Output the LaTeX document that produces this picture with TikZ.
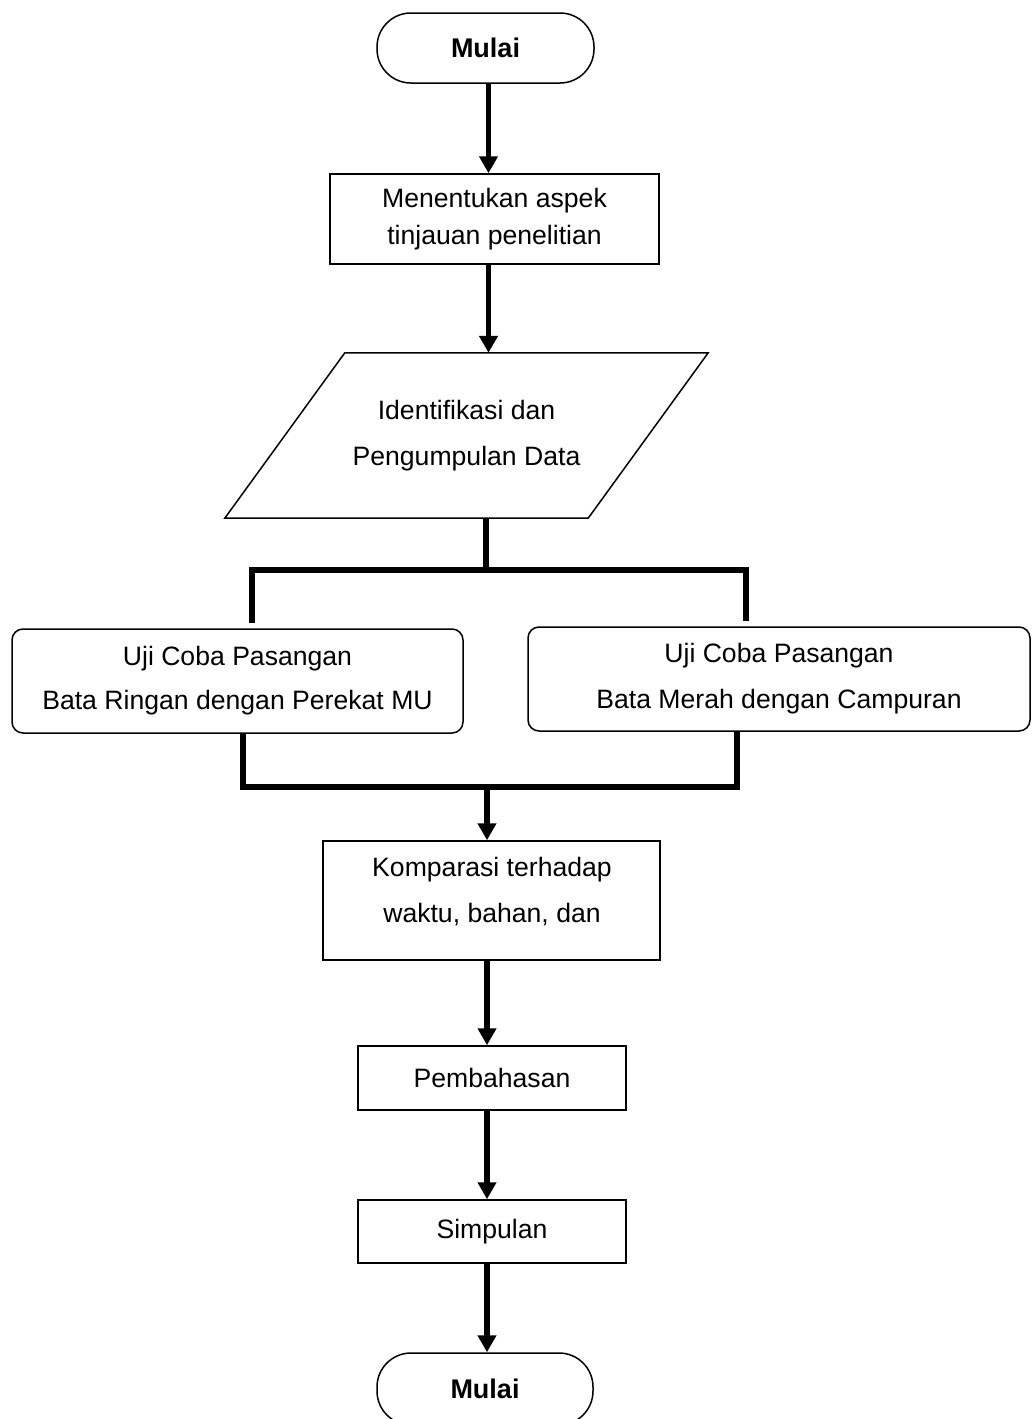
\documentclass[tikz,border=0pt]{standalone}
\usepackage{fontspec}
\setmainfont{Liberation Sans}
\usetikzlibrary{arrows.meta,calc}
\begin{document}
\begin{tikzpicture}[x=1pt,y=-1pt,
  box/.style={draw,line width=1.5pt,rectangle,inner sep=0pt,align=center},
  term/.style={box,rounded corners=34pt,font=\fontsize{27}{32}\selectfont\bfseries},
  conn/.style={line width=5.5pt},
  arr/.style={conn,-{Triangle[width=18pt,length=17pt]}}]
\useasboundingbox (0,0) rectangle (1032,1419);

\node[term,minimum width=217pt,minimum height=70pt] (start) at (485.5,48) {Mulai};
\node[box,minimum width=329pt,minimum height=90pt,font=\fontsize{26.6}{37}\selectfont] (aspek) at (494.5,219) {Menentukan aspek\\tinjauan penelitian};
\node[inner sep=0pt,minimum width=483pt,minimum height=165pt,align=center,font=\fontsize{26.6}{46}\selectfont] (ident) at (466.5,435.5) {Identifikasi dan\\Pengumpulan Data};
\draw[line width=1.5pt] ($(ident.north west)+(120,0)$) -- (ident.north east) -- ($(ident.south east)-(120,0)$) -- (ident.south west) -- cycle;

\node[box,rounded corners=11pt,minimum width=451pt,minimum height=104pt,font=\fontsize{26.6}{44}\selectfont] (uji1) at (237.5,681) {Uji Coba Pasangan\\Bata Ringan dengan Perekat MU};
\node[box,rounded corners=11pt,minimum width=502pt,minimum height=104pt,font=\fontsize{26.6}{46}\selectfont] (uji2) at (779,679) {Uji Coba Pasangan\\Bata Merah dengan Campuran};

\node[box,minimum width=337pt,minimum height=119pt] (komp) at (491.5,900.5) {};
\node[align=center,inner sep=0pt,font=\fontsize{26.6}{46}\selectfont] (kompt) at (492,892) {Komparasi terhadap\\waktu, bahan, dan};

\node[box,minimum width=268pt,minimum height=64pt,font=\fontsize{26.6}{32}\selectfont] (pemb) at (492,1078) {Pembahasan};
\node[box,minimum width=268pt,minimum height=63pt,font=\fontsize{26.6}{32}\selectfont] (simp) at (492,1231.5) {Simpulan};
\node[term,minimum width=216pt,minimum height=72pt] (end) at (485,1389) {Mulai};

\coordinate (fork) at (486,570);
\coordinate (fl) at (252,570);
\coordinate (fr) at (746,570);
\coordinate (jl) at (243,787);
\coordinate (jr) at (737,787);
\coordinate (join) at (487,787);

\draw[arr] ($(start.south)+(3,0)$) -- ($(start.south |- aspek.north)+(3,0)$);
\draw[arr] ($(aspek.south -| start.south)+(3,0)$) -- ($(start.south |- ident.north)+(3,0)$);
\draw[conn] (ident.south -| fork) -- (fork);
\draw[conn] ($(fl |- uji1.north)-(0,5)$) -- (fl) -- (fr) -- ($(fr |- uji2.north)-(0,5)$);
\draw[conn] (jl |- uji1.south) -- (jl) -- (jr) -- (jr |- uji2.south);
\draw[arr] (join) -- (join |- komp.north);
\draw[arr] (komp.south -| join) -- (join |- pemb.north);
\draw[arr] (pemb.south -| join) -- (join |- simp.north);
\draw[arr] (simp.south -| join) -- (join |- end.north);
\end{tikzpicture}
\end{document}
